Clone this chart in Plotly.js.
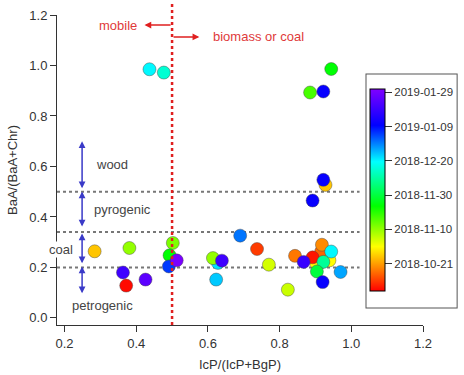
<!DOCTYPE html>
<html><head><meta charset="utf-8">
<script src="https://cdn.plot.ly/plotly-3.0.1.min.js"></script>
<style>html,body{margin:0;padding:0;background:#fff}#chart{width:464px;height:375px}</style>
</head><body><div id="chart"></div><script>
// IcP/(IcP+BgP)
const icpRatio = [0.437,0.477,0.944,0.885,0.922,0.928,0.922,0.892,0.284,0.381,0.363,0.372,0.426,0.502,0.493,0.491,0.513,0.690,0.737,0.628,0.614,0.639,0.623,0.770,0.823,0.843,0.916,0.918,0.939,0.902,0.892,0.867,0.944,0.922,0.904,0.970,0.920];
// BaA/(BaA+Chr)
const baaRatio = [0.985,0.972,0.986,0.893,0.897,0.527,0.547,0.465,0.264,0.277,0.180,0.128,0.152,0.297,0.248,0.204,0.228,0.326,0.273,0.218,0.237,0.227,0.152,0.211,0.112,0.246,0.263,0.290,0.228,0.218,0.240,0.222,0.263,0.222,0.184,0.182,0.142];
// sampling dates (colour)
const sampleDates = ['2018-12-20','2018-12-15','2018-11-24','2018-11-17','2019-01-11','2018-10-25','2019-01-11','2019-01-11','2018-10-25','2018-11-10','2019-01-20','2018-10-06','2019-01-25','2018-11-12','2018-11-24','2019-01-05','2019-01-30','2018-12-31','2018-10-11','2018-12-22','2018-11-10','2019-01-20','2018-12-24','2018-11-04','2018-11-05','2018-10-17','2018-10-15','2018-10-19','2018-10-31','2018-10-31','2018-10-07','2019-01-19','2018-12-20','2018-12-09','2018-11-30','2018-12-27','2019-01-11'];
const cbTickText = ['2018-10-21','2018-11-10','2018-11-30','2018-12-20','2019-01-09','2019-01-29'];
const colorRange = ['2018-10-05','2019-01-31'];
const xTicks = [0.2,0.4,0.6,0.8,1.0,1.2];
const yTicks = [0.0,0.2,0.4,0.6,0.8,1.0,1.2];
const thresholds = [0.5,0.34,0.2];
const sourceSplit = 0.5;
const zoneLabels = ['wood','pyrogenic','coal','petrogenic'];
const zoneBounds = [[0.70,0.508],[0.501,0.356],[0.334,0.211],[0.204,0.092]];

const toMs = s => Date.parse(s);
const colorVals = sampleDates.map(toMs);
const cbTickVals = cbTickText.map(toMs);

const font = 'Arial, "Liberation Sans", sans-serif';
const trace = {
  type:'scatter', mode:'markers', x:icpRatio, y:baaRatio,
  marker:{
    size:13, color:colorVals, cmin:toMs(colorRange[0]), cmax:toMs(colorRange[1]),
    colorscale:[[0,'#ff0000'],[0.12,'#ff8c00'],[0.22,'#ffff00'],[0.42,'#00ff00'],[0.64,'#00ffff'],[0.82,'#0000ff'],[1,'#8000ff']],
    line:{color:'rgba(70,70,70,0.55)', width:0.8},
    showscale:true,
    colorbar:{
      x:0.847, xanchor:'left', xpad:3, y:0.4355, yanchor:'middle',
      len:232, lenmode:'pixels', ypad:15, thickness:15, thicknessmode:'pixels',
      tickvals:cbTickVals, ticktext:cbTickText, ticks:'outside', ticklen:7, tickcolor:'#333',
      tickfont:{family:font, size:11.5, color:'#333'},
      outlinecolor:'#000', outlinewidth:1,
      bgcolor:'#fff', bordercolor:'#555', borderwidth:1
    }
  },
  hoverinfo:'skip'
};

const shapes = thresholds.map(t => ({type:'line', xref:'x', yref:'y', x0:0.179, x1:1.023, y0:t, y1:t,
  line:{color:'#777', width:2, dash:'dot'}, layer:'below'}));
shapes.push({type:'line', xref:'x', yref:'paper', x0:sourceSplit, x1:sourceSplit, y0:0, y1:1.039,
  line:{color:'#e02020', width:2.5, dash:'dot'}, layer:'above'});

const annotations = [];
const arrowX = 0.249;
zoneBounds.forEach(b => annotations.push({x:arrowX, y:b[0], ax:arrowX, ay:b[1], axref:'x', ayref:'y', xref:'x', yref:'y',
  text:'', showarrow:true, arrowside:'end+start', arrowhead:2, startarrowhead:2, arrowsize:0.9, startarrowsize:0.9,
  arrowwidth:1.5, arrowcolor:'#3a3ac8', standoff:0, startstandoff:0}));
const labelPos = [[0.284,0.607],[0.279,0.428],[null,0.270],[0.219,0.049]];
zoneLabels.forEach((t,i) => {
  const isCoal = labelPos[i][0] === null;
  annotations.push({x: isCoal ? -0.024 : labelPos[i][0], y:labelPos[i][1], xref: isCoal ? 'paper' : 'x', yref:'y', text:t, showarrow:false,
    xanchor:'left', yanchor:'middle', font:{family:font, size:13, color:'#444'}, bgcolor: isCoal ? '#fff' : 'rgba(0,0,0,0)', borderpad:0});
});
// source arrows
annotations.push({x:0.423, y:1.16, ax:sourceSplit, ay:1.16, axref:'x', ayref:'y', xref:'x', yref:'y', text:'', showarrow:true,
  arrowhead:2, arrowsize:0.9, arrowwidth:1.5, arrowcolor:'#e02020', standoff:0, startstandoff:0});
annotations.push({x:0.576, y:1.113, ax:sourceSplit, ay:1.113, axref:'x', ayref:'y', xref:'x', yref:'y', text:'', showarrow:true,
  arrowhead:2, arrowsize:0.9, arrowwidth:1.5, arrowcolor:'#e02020', standoff:0, startstandoff:0});
annotations.push({x:0.409, y:1.16, xref:'x', yref:'y', text:'mobile', showarrow:false, xanchor:'right', yanchor:'middle',
  font:{family:font, size:13, color:'#e03a3a'}});
annotations.push({x:0.609, y:1.113, xref:'x', yref:'y', text:'biomass or coal', showarrow:false, xanchor:'left', yanchor:'middle',
  font:{family:font, size:13, color:'#e03a3a'}});

const axisCommon = {showgrid:false, zeroline:false, showline:true, linecolor:'#333', linewidth:1,
  ticks:'outside', ticklen:6, tickcolor:'#333', tickfont:{family:font, size:13, color:'#333'}, automargin:false};
const layout = {
  width:464, height:375, margin:{l:57, r:41, t:15, b:50, autoexpand:false},
  paper_bgcolor:'#fff', plot_bgcolor:'#fff', showlegend:false,
  xaxis:Object.assign({}, axisCommon, {range:[0.179,1.2], tickvals:xTicks, tickformat:'.1f',
    title:{text:'IcP/(IcP+BgP)', font:{family:font, size:13, color:'#333'}, standoff:10}}),
  yaxis:Object.assign({}, axisCommon, {range:[-0.028,1.2], tickvals:yTicks, tickformat:'.1f',
    title:{text:'BaA/(BaA+Chr)', font:{family:font, size:13, color:'#333'}, standoff:8}}),
  shapes:shapes, annotations:annotations
};
Plotly.newPlot('chart', [trace], layout, {displayModeBar:false, staticPlot:true});
</script></body></html>
